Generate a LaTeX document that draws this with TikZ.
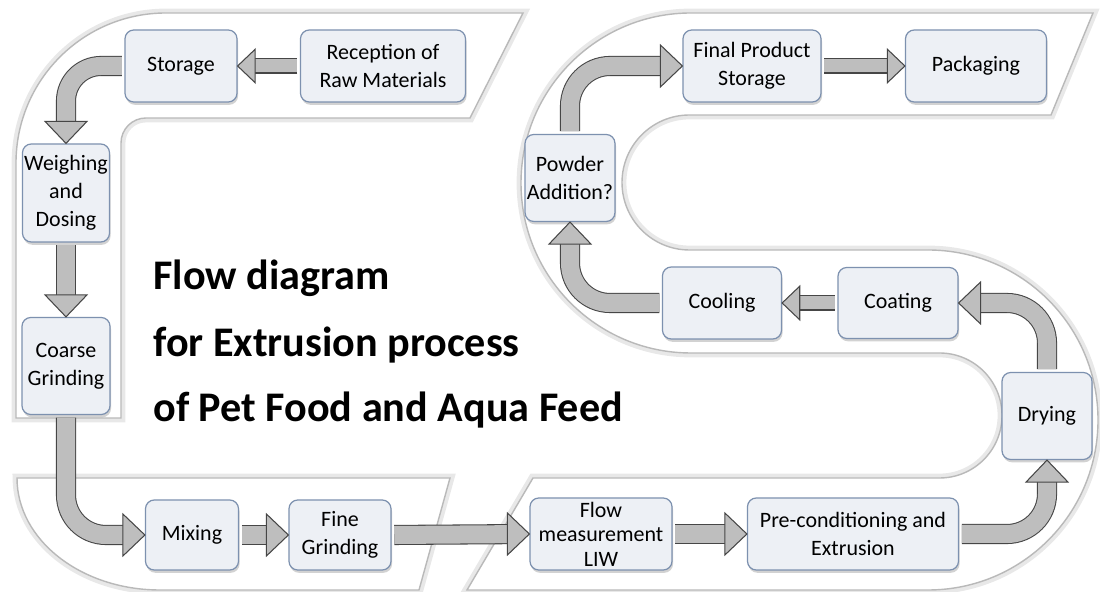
\documentclass[tikz,border=0pt]{standalone}
\usepackage{fontspec}
\setmainfont{Carlito}
\usetikzlibrary{shadows}

\definecolor{boxfill}{RGB}{237,240,245}
\definecolor{boxline}{RGB}{125,145,175}
\definecolor{arrowfill}{RGB}{190,190,190}
\definecolor{arrowline}{RGB}{70,70,70}

\begin{document}
\begin{tikzpicture}[
    procbox/.style={rectangle, rounded corners=5pt, align=center, inner sep=1pt, draw=boxline, line width=0.7pt, fill=boxfill, font=\fontsize{12.5}{16}\selectfont, drop shadow={shadow xshift=0.6pt, shadow yshift=-1.6pt, opacity=0.35}},
    band/.style={fill=white, draw=gray!55, line width=0.8pt, preaction={draw=gray!18, line width=5pt}},
    shaft/.style={draw=arrowline, line width=0.6pt, double=arrowfill, double distance=0.36cm, shorten >=0.4cm, shorten <=1.5pt},
    thinshaft/.style={shaft, double distance=0.26cm, shorten >=0.32cm},
    bhead/.pic={\draw[fill=arrowfill, draw=arrowline, line width=0.6pt] (0,0) -- (-0.44,0.42) -- (-0.44,-0.42) -- cycle;},
    title/.style={anchor=base west, inner sep=0pt, font=\fontsize{24}{28}\selectfont\bfseries}
]
\useasboundingbox (0,0) rectangle (22,11.84);

% Background bands
\draw[band] (10.46,11.58) -- (3.32,11.58) arc[start angle=90, end angle=180, radius=3] -- (0.32,3.48) -- (2.42,3.48) -- (2.42,8.98) arc[start angle=180, end angle=90, radius=0.5] -- (9.40,9.48) -- cycle;
\draw[band] (0.34,2.28) -- (9.00,2.28) -- (8.38,0.04) -- (3.20,0.04) arc[start angle=270, end angle=180, x radius=2.86, y radius=2.24] -- cycle;
\draw[band] (21.86,11.58) -- (13.82,11.58) arc[start angle=90, end angle=270, radius=3.40] -- (18.79,4.78) arc[start angle=90, end angle=-90, radius=1.25] -- (10.66,2.28) -- (9.34,0.04) -- (18.56,0.04) arc[start angle=-90, end angle=90, radius=3.40] -- (13.79,6.84) arc[start angle=270, end angle=90, radius=1.35] -- (21.02,9.54) -- cycle;

% Title
\node[title] (title1) at (3.06,6.04) {Flow diagram};
\node[title] (title2) at (3.06,4.70) {for Extrusion process};
\node[title] (title3) at (3.06,3.40) {of Pet Food and Aqua Feed};

% Raw material side
\node[procbox, minimum width=3.30cm, minimum height=1.44cm] (reception) at (7.66,10.52) {Reception of\\Raw Materials};
\node[procbox, minimum width=2.24cm, minimum height=1.44cm] (storage) at (3.62,10.52) {Storage};
\node[procbox, minimum width=1.74cm, minimum height=1.96cm] (weighing) at (1.32,7.98) {Weighing\\and\\Dosing};
\node[procbox, minimum width=1.76cm, minimum height=1.94cm] (coarse) at (1.32,4.52) {Coarse\\Grinding};
\node[procbox, minimum width=1.86cm, minimum height=1.40cm] (mixing) at (3.84,1.14) {Mixing};
\node[procbox, minimum width=2.04cm, minimum height=1.40cm] (fine) at (6.80,1.14) {Fine\\Grinding};

% Extrusion line
\node[procbox, minimum width=2.84cm, minimum height=1.44cm, inner sep=0pt, font=\fontsize{12.5}{14}\selectfont] (flow) at (12.02,1.16) {Flow\\measurement\\LIW};
\node[procbox, minimum width=4.22cm, minimum height=1.44cm] (pre) at (17.06,1.16) {Pre-conditioning and\\Extrusion};
\node[procbox, minimum width=1.80cm, minimum height=1.74cm] (drying) at (20.94,3.52) {Drying};
\node[procbox, minimum width=2.40cm, minimum height=1.42cm] (coating) at (17.96,5.78) {Coating};
\node[procbox, minimum width=2.38cm, minimum height=1.44cm] (cooling) at (14.44,5.78) {Cooling};
\node[procbox, minimum width=1.78cm, minimum height=1.74cm] (powder) at (11.40,8.28) {Powder\\Addition?};
\node[procbox, minimum width=2.76cm, minimum height=1.44cm] (final) at (15.04,10.52) {Final Product\\Storage};
\node[procbox, minimum width=2.82cm, minimum height=1.44cm] (packaging) at (19.52,10.52) {Packaging};

% Arrows
\draw[thinshaft] (reception.west) -- (storage.east);
\pic[rotate=180, scale=0.8] at (storage.east) {bhead};

\draw[shaft, rounded corners=0.7cm] (storage.west) -| (weighing.north);
\pic[rotate=-90] at (weighing.north) {bhead};

\draw[shaft] (weighing.south) -- (coarse.north);
\pic[rotate=-90] at (coarse.north) {bhead};

\draw[shaft, rounded corners=0.8cm] (coarse.south) |- (mixing.west);
\pic at (mixing.west) {bhead};

\draw[shaft] (mixing.east) -- (fine.west);
\pic at (fine.west) {bhead};

\draw[shaft] (fine.east) -- (flow.west);
\pic at (flow.west) {bhead};

\draw[shaft] (flow.east) -- (pre.west);
\pic at (pre.west) {bhead};

\draw[shaft, rounded corners=0.8cm] (pre.east) -| (drying.south);
\pic[rotate=90] at (drying.south) {bhead};

\draw[shaft, rounded corners=0.8cm] (drying.north) |- (coating.east);
\pic[rotate=180] at (coating.east) {bhead};

\draw[thinshaft] (coating.west) -- (cooling.east);
\pic[rotate=180, scale=0.8] at (cooling.east) {bhead};

\draw[shaft, rounded corners=0.8cm] (cooling.west) -| (powder.south);
\pic[rotate=90] at (powder.south) {bhead};

\draw[shaft, rounded corners=0.8cm] (powder.north) |- (final.west);
\pic at (final.west) {bhead};

\draw[thinshaft] (final.east) -- (packaging.west);
\pic[scale=0.8] at (packaging.west) {bhead};

\end{tikzpicture}
\end{document}
